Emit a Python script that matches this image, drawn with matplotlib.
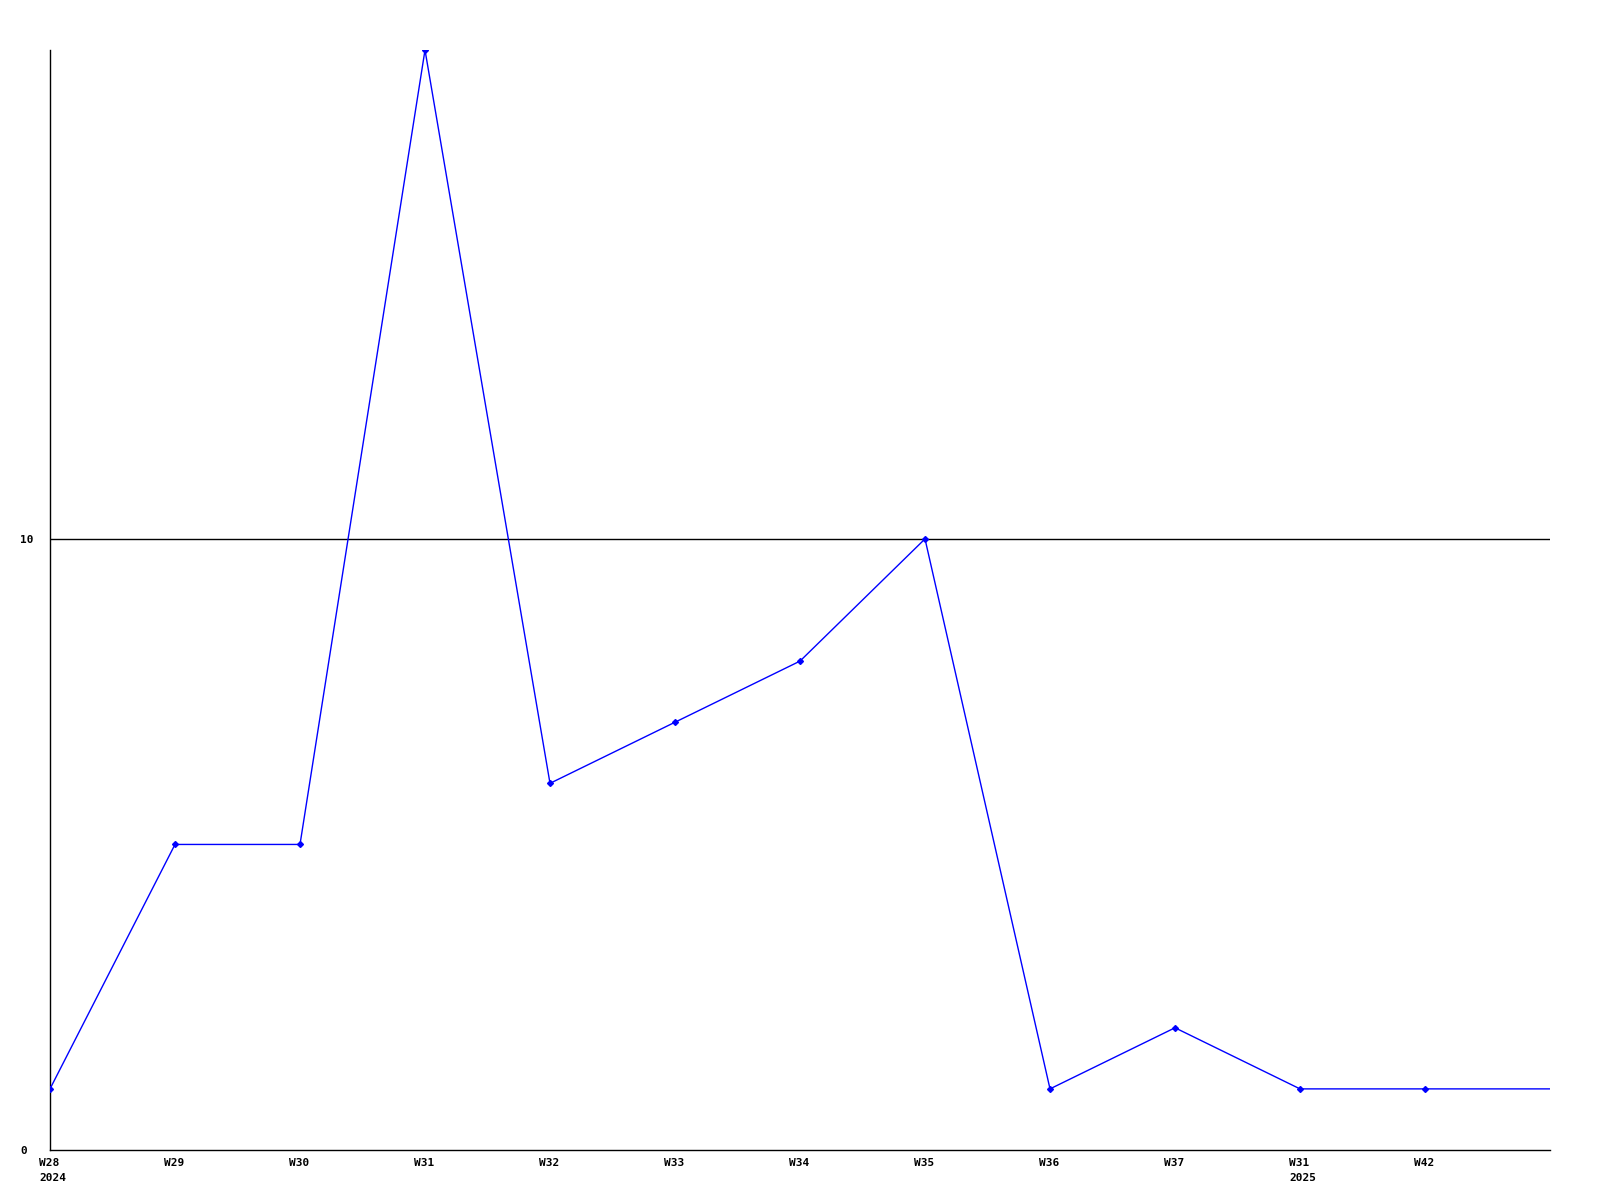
import matplotlib
matplotlib.use("Agg")
import matplotlib.pyplot as plt
import matplotlib.transforms as mtransforms

labels = ["W28\n2024", "W29", "W30", "W31", "W32", "W33", "W34", "W35",
          "W36", "W37", "W31\n2025", "W42"]
values = [1, 5, 5, 18, 6, 7, 8, 10, 1, 2, 1, 1]
tail_value = 1  # line continues to the right edge
y_ticks = [0, 10]

fig = plt.figure(figsize=(16, 12), dpi=100)
ax = fig.add_axes([50/1600, 50/1200, 1500/1600, 1100/1200])

xs = list(range(len(values)))
ax.plot(xs + [len(values)], values + [tail_value], color="#0000ff", lw=1.0, zorder=3)
ax.plot(xs, values, linestyle="none", marker="D", markersize=3, color="#0000ff", zorder=4)

ax.set_xlim(0, len(values))
ax.set_ylim(0, 18)
ax.axhline(10, color="black", lw=1.0, zorder=2)

font = dict(family="DejaVu Sans Mono", weight="bold", size=8)
ax.set_xticks(xs)
ax.set_xticklabels(labels, fontdict=font, ha="left", linespacing=1.6)
ax.set_yticks(y_ticks)
ax.set_yticklabels([str(v) for v in y_ticks], fontdict=font, ha="left")
ax.tick_params(axis="both", length=0)
ax.tick_params(axis="x", pad=6)
ax.tick_params(axis="y", pad=21.6)

offset = mtransforms.ScaledTranslation(-11/100, 0, fig.dpi_scale_trans)
for t in ax.get_xticklabels():
    t.set_transform(t.get_transform() + offset)

for s in ["top", "right"]:
    ax.spines[s].set_visible(False)
for s in ["left", "bottom"]:
    ax.spines[s].set_color("black")
    ax.spines[s].set_linewidth(1.0)

fig.savefig("out.png", dpi=100, facecolor="white")
